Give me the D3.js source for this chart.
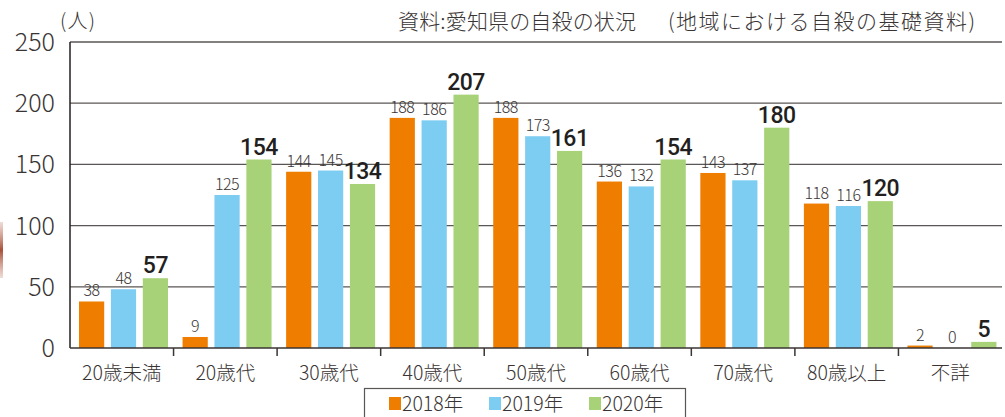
<!DOCTYPE html>
<html lang="ja">
<head>
  <meta charset="UTF-8">
  <title>年代別自殺者数</title>
  <script src="https://d3js.org/d3.v7.min.js"></script>
  <style>
    body { margin: 0; background: #fff; }
    svg { display: block; font-family: "Noto Sans CJK JP", "Noto Sans", sans-serif; }
  </style>
</head>
<body>
  <svg width="1005" height="417"></svg>
  <script>
    const categories = ["20歳未満", "20歳代", "30歳代", "40歳代", "50歳代", "60歳代", "70歳代", "80歳以上", "不詳"]
    const years = ["2018年", "2019年", "2020年"]
    const v2018 = [38, 9, 144, 188, 188, 136, 143, 118, 2]
    const v2019 = [48, 125, 145, 186, 173, 132, 137, 116, 0]
    const v2020 = [57, 154, 134, 207, 161, 154, 180, 120, 5]
    const yTicks = [0, 50, 100, 150, 200, 250]
    const colors = ["#ee7d00", "#7dccf2", "#a8d277"]

    const series = [v2018, v2019, v2020]
    const svg = d3.select("svg")
    const marge = { left: 70, right: 1002, top: 42, bottom: 348 }

    const x = d3.scaleBand().domain(categories).range([marge.left, marge.right])
    const x1 = d3.scaleBand().domain(years).range([9, 98]).paddingInner(0.21)
    const y = d3.scaleLinear().domain([0, 250]).range([marge.bottom, marge.top])

    // 左端の飾り
    const grad = svg.append("defs").append("linearGradient").attr("id", "deco")
      .attr("x1", 0).attr("x2", 0).attr("y1", 0).attr("y2", 1)
    grad.append("stop").attr("offset", 0).attr("stop-color", "#c98a78").attr("stop-opacity", 0.3)
    grad.append("stop").attr("offset", 0.5).attr("stop-color", "#a8503a")
    grad.append("stop").attr("offset", 1).attr("stop-color", "#c98a78").attr("stop-opacity", 0.3)
    svg.append("rect").attr("x", 0).attr("y", 222).attr("width", 3).attr("height", 56).attr("fill", "url(#deco)")

    // グリッド線
    svg.append("g").selectAll("line")
      .data(yTicks.filter(d => d > 0))
      .join("line")
      .attr("x1", marge.left).attr("x2", marge.right)
      .attr("y1", d => y(d)).attr("y2", d => y(d))
      .attr("stroke", "#5a5655").attr("stroke-width", 1.3)

    // y軸ラベル
    svg.append("g").selectAll("text")
      .data(yTicks)
      .join("text")
      .attr("x", 55).attr("y", d => y(d) + 9)
      .attr("text-anchor", "end")
      .attr("font-size", 25).attr("font-weight", 300)
      .attr("fill", "#3a3534")
      .text(d => d)

    svg.append("text").attr("x", 60).attr("y", 28)
      .attr("font-size", 20).attr("font-weight", 300).attr("fill", "#3a3534")
      .attr("textLength", 35).attr("lengthAdjust", "spacing")
      .text("(人)")

    // 出典
    svg.append("text").attr("x", 398).attr("y", 29)
      .attr("font-size", 21).attr("font-weight", 300).attr("fill", "#3a3534")
      .attr("textLength", 238).attr("lengthAdjust", "spacing")
      .text("資料:愛知県の自殺の状況")
    svg.append("text").attr("x", 668).attr("y", 29)
      .attr("font-size", 21).attr("font-weight", 300).attr("fill", "#3a3534")
      .attr("textLength", 307).attr("lengthAdjust", "spacing")
      .text("(地域における自殺の基礎資料)")

    // 棒
    const groups = svg.append("g").selectAll("g")
      .data(categories)
      .join("g")
      .attr("transform", d => "translate(" + x(d) + ",0)")

    groups.selectAll("rect")
      .data((c, i) => series.map((s, j) => ({ year: years[j], v: s[i], j: j })))
      .join("rect")
      .attr("x", d => x1(d.year))
      .attr("width", x1.bandwidth())
      .attr("y", d => y(d.v))
      .attr("height", d => marge.bottom - y(d.v))
      .attr("fill", d => colors[d.j])

    groups.selectAll("text")
      .data((c, i) => series.map((s, j) => ({ year: years[j], v: s[i], j: j })))
      .join("text")
      .attr("x", d => x1(d.year) + x1.bandwidth() / 2)
      .attr("y", d => y(d.v) - 5)
      .attr("text-anchor", "middle")
      .attr("font-family", d => d.j === 2 ? "Roboto, sans-serif" : null)
      .attr("font-size", d => d.j === 2 ? 23 : 16)
      .attr("font-weight", d => d.j === 2 ? 500 : 300)
      .attr("fill", d => d.j === 2 ? "#231f1e" : "#3a3534")
      .attr("letter-spacing", -0.5)
      .text(d => d.v)

    // 軸
    svg.append("line").attr("x1", marge.left).attr("x2", marge.left).attr("y1", marge.top).attr("y2", marge.bottom)
      .attr("stroke", "#231f1e").attr("stroke-width", 1.5)
    svg.append("line").attr("x1", marge.left).attr("x2", marge.right).attr("y1", marge.bottom).attr("y2", marge.bottom)
      .attr("stroke", "#3a3534").attr("stroke-width", 1.5)
    svg.append("g").selectAll("line")
      .data(categories.slice(1))
      .join("line")
      .attr("x1", d => x(d)).attr("x2", d => x(d))
      .attr("y1", marge.bottom).attr("y2", marge.bottom + 8)
      .attr("stroke", "#3a3534").attr("stroke-width", 1.5)

    svg.append("g").selectAll("text")
      .data(categories)
      .join("text")
      .attr("x", d => x(d) + x.bandwidth() / 2)
      .attr("y", 380)
      .attr("text-anchor", "middle")
      .attr("font-size", 19.5).attr("font-weight", 300).attr("fill", "#3a3534")
      .text(d => d)

    // 凡例
    const legend = svg.append("g")
    legend.append("rect").attr("x", 364.5).attr("y", 388.5).attr("width", 321).attr("height", 40)
      .attr("fill", "#fff").attr("stroke", "#5a5655").attr("stroke-width", 1.2)
    const items = legend.selectAll("g")
      .data(years)
      .join("g")
      .attr("transform", (d, i) => "translate(" + (389 + i * 100) + ",0)")
    items.append("rect").attr("x", 0).attr("y", 397).attr("width", 12).attr("height", 13)
      .attr("fill", (d, i) => colors[i])
    items.append("text").attr("x", 13).attr("y", 411)
      .attr("font-size", 19.5).attr("font-weight", 300).attr("fill", "#3a3534")
      .text(d => d)
  </script>
</body>
</html>
